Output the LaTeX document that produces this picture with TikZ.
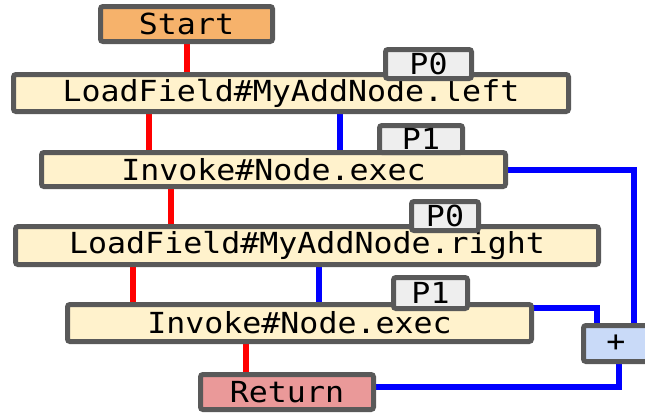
\documentclass[tikz,border=0pt]{standalone}
\usepackage{fontspec}
\newfontfamily\codefont[FakeStretch=1.09]{DejaVu Sans Mono}
\usetikzlibrary{backgrounds}
\definecolor{edgegray}{HTML}{595959}
\definecolor{startfill}{HTML}{F6B26B}
\definecolor{opfill}{HTML}{FFF2CC}
\definecolor{portfill}{HTML}{EEEEEE}
\definecolor{plusfill}{HTML}{C9DAF8}
\definecolor{retfill}{HTML}{EA9999}
\tikzset{
  box/.style={draw=edgegray, line width=5pt, rounded corners=2.5pt, inner sep=0pt,
    font=\codefont\fontsize{29}{32}\selectfont, text=black},
  opbox/.style={box, fill=opfill},
  portbox/.style={box, fill=portfill},
  ctrl/.style={draw=red, line width=6pt},
  data/.style={draw=blue, line width=6pt},
}
\begin{document}
\begin{tikzpicture}[x=1pt,y=-1pt]
\useasboundingbox (0,0) rectangle (645,415);
% operation boxes
\node[box, fill=startfill, minimum width=172pt, minimum height=35pt] (start) at (186.5,24) {Start};
\node[opbox, minimum width=555pt, minimum height=37pt] (lf1) at (291,93) {LoadField\#MyAddNode.left};
\node[opbox, minimum width=464pt, minimum height=34pt] (inv1) at (273.5,169.5) {Invoke\#Node.exec};
\node[opbox, minimum width=583pt, minimum height=38pt] (lf2) at (307,245.5) {LoadField\#MyAddNode.right};
\node[opbox, minimum width=464pt, minimum height=37pt] (inv2) at (299.5,323) {Invoke\#Node.exec};
\node[box, fill=plusfill, minimum width=65pt, minimum height=36pt] (plus) at (616,343.5) {+};
\node[box, fill=retfill, minimum width=173pt, minimum height=35pt] (ret) at (287,392) {Return};
% port tags
\node[portbox, minimum width=86pt, minimum height=29pt] (p0a) at (428.5,64) {P0};
\node[portbox, minimum width=83pt, minimum height=27pt] (p1a) at (421,139) {P1};
\node[portbox, minimum width=67pt, minimum height=29pt] (p0b) at (445,216) {P0};
\node[portbox, minimum width=74pt, minimum height=31pt] (p1b) at (430.5,293) {P1};
% connectors
\begin{scope}[on background layer]
  \coordinate (c1) at (149,0);
  \coordinate (d1) at (340,0);
  \coordinate (c2) at (171,0);
  \coordinate (c3) at (133,0);
  \coordinate (d3) at (319,0);
  \coordinate (c4) at (246,0);
  \coordinate (r1) at (634,170);
  \coordinate (r2) at (597,308);
  \coordinate (r3) at (619,387);
  \draw[ctrl] (start.center) -- (start.center |- lf1.center);
  \draw[ctrl] (c1 |- lf1.center) -- (c1 |- inv1.center);
  \draw[data] (d1 |- lf1.center) -- (d1 |- inv1.center);
  \draw[ctrl] (c2 |- inv1.center) -- (c2 |- lf2.center);
  \draw[ctrl] (c3 |- lf2.center) -- (c3 |- inv2.center);
  \draw[data] (d3 |- lf2.center) -- (d3 |- inv2.center);
  \draw[ctrl] (c4 |- inv2.center) -- (c4 |- ret.center);
  \draw[data] (inv1.center |- r1) -- (r1) -- (r1 |- plus.center);
  \draw[data] (inv2.center |- r2) -- (r2) -- (r2 |- plus.center);
  \draw[data] (ret.center |- r3) -- (r3) -- (r3 |- plus.center);
\end{scope}
\end{tikzpicture}
\end{document}
